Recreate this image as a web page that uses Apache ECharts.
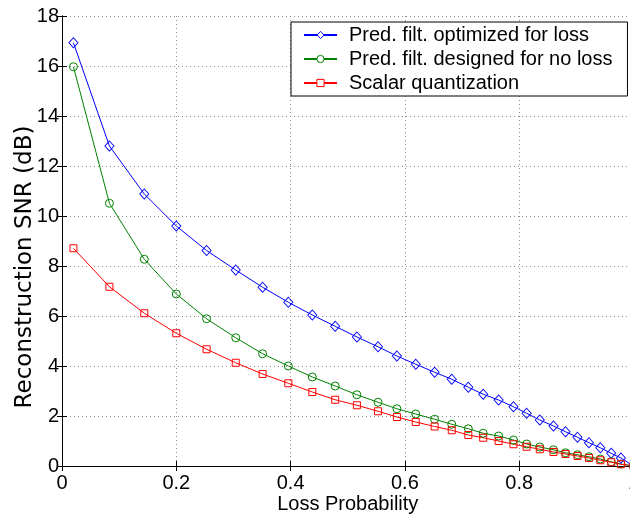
<!DOCTYPE html>
<html><head><meta charset="utf-8">
<script src="https://cdn.jsdelivr.net/npm/echarts@6/dist/echarts.min.js"></script>
<style>html,body{margin:0;padding:0;background:#fff;overflow:hidden}#c{width:630px;height:519px}</style>
</head><body><div id="c"></div>
<script>
// Loss probability (x) sample points
const lossProb = [0.02, 0.083, 0.144, 0.2, 0.253, 0.304, 0.351, 0.396, 0.438, 0.478,
  0.516, 0.553, 0.586, 0.619, 0.652, 0.682, 0.711, 0.737, 0.764, 0.790,
  0.813, 0.836, 0.860, 0.881, 0.902, 0.922, 0.942, 0.961, 0.978, 1.0];
// Reconstruction SNR (dB)
const predOptimized = [16.93, 12.8, 10.88, 9.6, 8.62, 7.84, 7.15, 6.55, 6.04, 5.59,
  5.16, 4.77, 4.4, 4.07, 3.75, 3.47, 3.15, 2.87, 2.64, 2.37,
  2.11, 1.84, 1.6, 1.37, 1.15, 0.93, 0.73, 0.51, 0.32, 0.0];
const predNoLoss = [15.97, 10.51, 8.27, 6.88, 5.89, 5.13, 4.49, 4.0, 3.56, 3.2,
  2.85, 2.55, 2.29, 2.08, 1.87, 1.67, 1.49, 1.31, 1.2, 1.04,
  0.88, 0.76, 0.65, 0.53, 0.45, 0.37, 0.28, 0.17, 0.08, 0.0];
const scalarQuant = [8.71, 7.17, 6.11, 5.31, 4.67, 4.13, 3.68, 3.31, 2.96, 2.65,
  2.43, 2.19, 1.96, 1.76, 1.58, 1.43, 1.24, 1.13, 1.0, 0.87,
  0.77, 0.67, 0.56, 0.48, 0.4, 0.32, 0.23, 0.15, 0.07, 0.0];
const seriesNames = ['Pred. filt. optimized for loss', 'Pred. filt. designed for no loss', 'Scalar quantization'];
const xAxisTitle = 'Loss Probability';
const yAxisTitle = 'Reconstruction SNR (dB)';

const FONT = 'Liberation Sans, Arial, Helvetica, sans-serif';
const pairs = ys => lossProb.map((x, i) => [x, ys[i]]);

function mkSeries(name, ys, color, symbol, size) {
  return {
    name: name, type: 'line', data: pairs(ys),
    symbol: symbol, symbolSize: size, showSymbol: true,
    lineStyle: { color: color, width: 1 },
    itemStyle: { color: 'rgba(255,255,255,0)', borderColor: color, borderWidth: 1 },
    emphasis: { disabled: true }, silent: true, clip: false
  };
}

const chart = echarts.init(document.getElementById('c'), null, { renderer: 'canvas' });
const fmtX = v => String(+(+v).toFixed(1));
chart.setOption({
  animation: false,
  backgroundColor: '#fff',
  textStyle: { fontFamily: FONT },
  grid: { left: 62, top: 16, width: 571.5, height: 450, containLabel: false, outerBoundsMode: 'none' },
  legend: {
    orient: 'vertical', left: 291, top: 22,
    padding: [3, 15, 3, 12], itemGap: 4,
    itemWidth: 33, itemHeight: 9,
    borderColor: '#000', borderWidth: 1, backgroundColor: '#fff',
    itemStyle: { color: '#fff', borderWidth: 1 },
    textStyle: { fontFamily: FONT, fontSize: 20, color: '#000', padding: [0, 0, 0, 7] },
    selectedMode: false,
    data: seriesNames
  },
  xAxis: [{
    type: 'value', min: 0, max: 1, interval: 0.2, position: 'bottom',
    name: xAxisTitle, nameLocation: 'middle', nameGap: 28, nameMoveOverlap: false,
    nameTextStyle: { fontFamily: FONT, fontSize: 20, color: '#000' },
    axisLine: { show: true, lineStyle: { color: '#000', width: 1 } },
    axisTick: { show: true, inside: true, length: 5, lineStyle: { color: '#000' } },
    axisLabel: { fontFamily: FONT, fontSize: 20, color: '#000', margin: 7, formatter: fmtX },
    splitLine: { show: true, lineStyle: { color: '#8c8c8c', width: 1, type: [1, 3] } }
  }, {
    type: 'value', min: 0, max: 1, interval: 0.2, position: 'top',
    axisLine: { show: true, lineStyle: { color: '#000', width: 1 } },
    axisTick: { show: true, inside: true, length: 5, lineStyle: { color: '#000' } },
    axisLabel: { show: false }, splitLine: { show: false }
  }],
  yAxis: [{
    type: 'value', min: 0, max: 18, interval: 2, position: 'left',
    name: yAxisTitle, nameLocation: 'middle', nameGap: 25, nameMoveOverlap: false,
    nameTextStyle: { fontFamily: 'DejaVu Sans', fontSize: 23, color: '#000', padding: [0, 52, 0, 0] },
    axisLine: { show: true, lineStyle: { color: '#000', width: 1 } },
    axisTick: { show: true, inside: true, length: 5, lineStyle: { color: '#000' } },
    axisLabel: { fontFamily: FONT, fontSize: 20, color: '#000', margin: 3 },
    splitLine: { show: true, lineStyle: { color: '#8c8c8c', width: 1, type: [1, 3] } }
  }, {
    type: 'value', min: 0, max: 18, interval: 2, position: 'right',
    axisLine: { show: true, lineStyle: { color: '#000', width: 1 } },
    axisTick: { show: true, inside: true, length: 5, lineStyle: { color: '#000' } },
    axisLabel: { show: false }, splitLine: { show: false }
  }],
  series: [
    mkSeries(seriesNames[0], predOptimized, '#0000ff', 'diamond', [9, 10]),
    mkSeries(seriesNames[1], predNoLoss, '#008000', 'circle', 8),
    mkSeries(seriesNames[2], scalarQuant, '#ff0000', 'rect', 7)
  ]
});
</script></body></html>
